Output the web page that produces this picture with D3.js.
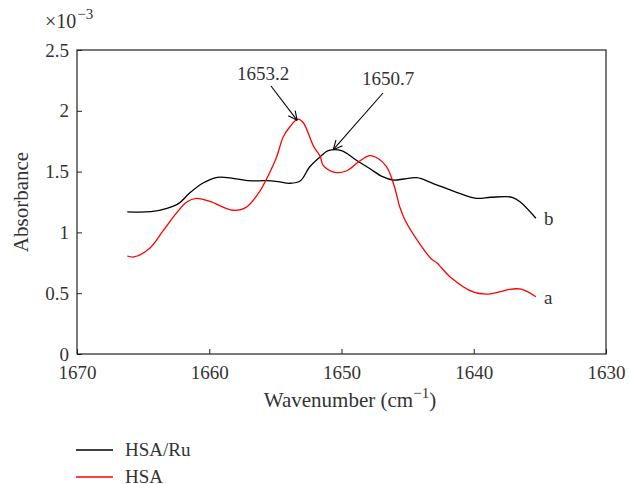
<!DOCTYPE html>
<html>
<head>
<meta charset="utf-8">
<script src="https://cdn.jsdelivr.net/npm/d3@7"></script>
<style>
  body { margin: 0; background: #fff; }
  svg { display: block; }
  text { font-family: "Liberation Serif", "DejaVu Serif", serif; fill: #333; }
</style>
</head>
<body>
<svg id="chart" width="629" height="484"></svg>
<script>
// ---- data (absorbance in units of 1e-3) ----
const hsaRuWavenumber = [1666.2, 1664.4, 1663.2, 1662.3, 1661.5, 1660.5, 1659.4, 1658.2, 1657.1, 1655.7, 1654.8, 1653.9, 1653.1, 1652.4, 1651.6, 1651.0, 1650.0, 1648.9, 1647.9, 1646.9, 1646.1, 1645.3, 1644.3, 1643.1, 1641.3, 1639.8, 1638.7, 1637.1, 1636.5, 1635.3];
const hsaRuValues     = [1.168, 1.170, 1.198, 1.239, 1.322, 1.404, 1.453, 1.445, 1.425, 1.425, 1.417, 1.404, 1.425, 1.540, 1.623, 1.672, 1.672, 1.595, 1.527, 1.458, 1.431, 1.439, 1.450, 1.404, 1.330, 1.280, 1.289, 1.289, 1.252, 1.116];

const hsaWavenumber = [1666.2, 1665.7, 1664.5, 1663.5, 1662.5, 1661.7, 1661.0, 1660.0, 1658.2, 1657.2, 1656.2, 1655.4, 1654.9, 1654.4, 1653.9, 1653.3, 1652.9, 1652.1, 1651.6, 1651.4, 1650.5, 1649.6, 1648.7, 1647.9, 1647.4, 1646.6, 1646.0, 1645.6, 1645.2, 1644.2, 1643.2, 1642.8, 1641.8, 1640.0, 1638.9, 1638.0, 1637.3, 1636.4, 1635.3];
const hsaValues     = [0.806, 0.798, 0.869, 1.012, 1.157, 1.250, 1.280, 1.257, 1.182, 1.207, 1.335, 1.499, 1.623, 1.787, 1.869, 1.931, 1.904, 1.705, 1.623, 1.554, 1.494, 1.507, 1.581, 1.631, 1.618, 1.540, 1.376, 1.211, 1.102, 0.924, 0.781, 0.751, 0.636, 0.508, 0.493, 0.512, 0.532, 0.533, 0.471];

const xTicks = [1670, 1660, 1650, 1640, 1630];
const yTicks = [0, 0.5, 1, 1.5, 2, 2.5];
const seriesNames = ["HSA/Ru", "HSA"];
const seriesColors = ["#000000", "#ff0000"];
const annotations = [
  { label: "1653.2", w: 1653.2, v: 1.93 },
  { label: "1650.7", w: 1650.7, v: 1.672 }
];

// ---- layout ----
const svg = d3.select("#chart");
const plotLeft = 77, plotRight = 606, plotTop = 50, plotBottom = 354;

const x = d3.scaleLinear().domain([1670, 1630]).range([plotLeft, plotRight]);
const y = d3.scaleLinear().domain([0, 2.5]).range([plotBottom, plotTop]);

const axisColor = "#222";

// x axis (ticks inward)
const gx = svg.append("g").attr("transform", `translate(0,${plotBottom})`)
  .call(d3.axisBottom(x).tickValues(xTicks).tickFormat(d3.format("d")).tickSizeInner(-5).tickSizeOuter(0).tickPadding(12));
gx.select(".domain").remove();
gx.selectAll(".tick line").attr("stroke", axisColor);
gx.selectAll(".tick text").style("font-size", "19px").attr("fill", "#333");

// y axis
const gy = svg.append("g").attr("transform", `translate(${plotLeft},0)`)
  .call(d3.axisLeft(y).tickValues(yTicks).tickFormat(d => d3.format("")(d)).tickSizeInner(-5).tickSizeOuter(0).tickPadding(8));
gy.select(".domain").remove();
gy.selectAll(".tick line").attr("stroke", axisColor);
gy.selectAll(".tick text").style("font-size", "19px").attr("fill", "#333");

// frame
svg.append("rect").attr("x", plotLeft).attr("y", plotTop).attr("width", plotRight - plotLeft).attr("height", plotBottom - plotTop)
  .attr("fill", "none").attr("stroke", axisColor).attr("stroke-width", 1.2);

// exponent label
const ex = svg.append("text").attr("x", 45).attr("y", 28).style("font-size", "20px");
ex.append("tspan").text("×10");
ex.append("tspan").attr("dx", 1).attr("dy", -9).style("font-size", "15px").text("−3");

// axis titles
const xt = svg.append("text").attr("x", 350).attr("y", 407).attr("text-anchor", "middle").style("font-size", "21px");
xt.append("tspan").text("Wavenumber (cm");
xt.append("tspan").attr("dy", -9).style("font-size", "15px").text("−1");
xt.append("tspan").attr("dy", 9).text(")");

svg.append("text").attr("transform", `translate(28,${(plotTop + plotBottom) / 2}) rotate(-90)`)
  .attr("text-anchor", "middle").style("font-size", "21px").text("Absorbance");

// lines
const line = d3.line().x(d => x(d[0])).y(d => y(d[1])).curve(d3.curveCatmullRom.alpha(0.5));
const series = [
  d3.zip(hsaRuWavenumber, hsaRuValues),
  d3.zip(hsaWavenumber, hsaValues)
];
series.forEach((s, i) => {
  svg.append("path").datum(s).attr("d", line)
    .attr("fill", "none").attr("stroke", seriesColors[i]).attr("stroke-width", 1.3);
});

// end labels a / b
const lastRu = series[0][series[0].length - 1];
const lastHsa = series[1][series[1].length - 1];
svg.append("text").attr("x", x(lastRu[0]) + 8).attr("y", y(lastRu[1]) + 7).style("font-size", "19px").text("b");
svg.append("text").attr("x", x(lastHsa[0]) + 8).attr("y", y(lastHsa[1]) + 7).style("font-size", "19px").text("a");

// annotations with open arrowheads
function arrow(x1, y1, x2, y2) {
  const g = svg.append("g").attr("stroke", "#000").attr("stroke-width", 1.1).attr("fill", "none");
  g.append("line").attr("x1", x1).attr("y1", y1).attr("x2", x2).attr("y2", y2);
  const ang = Math.atan2(y2 - y1, x2 - x1);
  const L = 10, spread = Math.PI / 7;
  [ang + Math.PI - spread, ang + Math.PI + spread].forEach(a => {
    g.append("line").attr("x1", x2).attr("y1", y2)
      .attr("x2", x2 + L * Math.cos(a)).attr("y2", y2 + L * Math.sin(a));
  });
}
// 1653.2
svg.append("text").attr("x", 237).attr("y", 80).style("font-size", "19px").text(annotations[0].label);
arrow(271, 86, x(annotations[0].w) - 2, y(annotations[0].v) + 1);
// 1650.7
svg.append("text").attr("x", 362).attr("y", 85).style("font-size", "19px").text(annotations[1].label);
arrow(383, 93, x(annotations[1].w) + 1, y(annotations[1].v) - 1);

// legend
seriesNames.forEach((n, i) => {
  const ly = 450 + i * 27;
  svg.append("line").attr("x1", 76).attr("x2", 113).attr("y1", ly).attr("y2", ly)
    .attr("stroke", seriesColors[i]).attr("stroke-width", 1.5);
  svg.append("text").attr("x", 125).attr("y", ly + 6).style("font-size", "19px").text(n);
});
</script>
</body>
</html>
